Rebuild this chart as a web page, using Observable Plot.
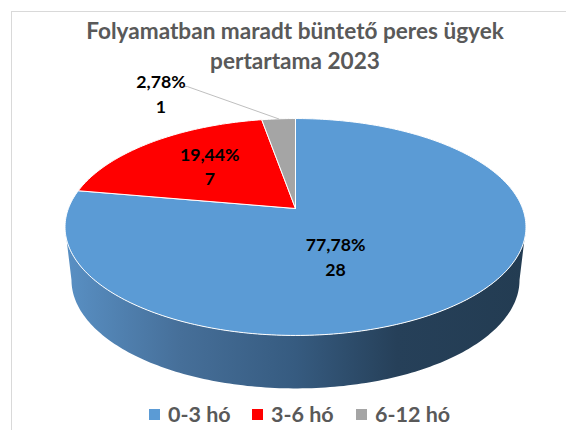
<!DOCTYPE html>
<html>
<head>
<meta charset="utf-8">
<script src="https://cdn.jsdelivr.net/npm/d3@7"></script>
<script src="https://cdn.jsdelivr.net/npm/@observablehq/plot@0.6"></script>
<style>
  html, body { margin: 0; padding: 0; background: #fff; width: 566px; height: 430px; overflow: hidden; }
  #chart { position: relative; width: 566px; height: 430px; font-family: Lato, sans-serif; }
  #rule { position: absolute; left: 11px; right: 0; top: 11px; height: 419px; border-top: 1px solid #d9d9d9; border-left: 1px solid #d9d9d9; }
  #title { position: absolute; left: 0; width: 590px; top: 16px; text-align: center; color: #595959;
           font-weight: 700; font-size: 22.6px; line-height: 29.5px; }
  #plot { position: absolute; left: 0; top: 72px; }
  #plot svg { display: block; background: transparent; }
  #legend { position: absolute; left: 0; top: 400px; height: 30px; width: 566px; color: #595959;
            font-weight: 700; font-size: 21.5px; line-height: 28px; }
  #legend span.s { position: absolute; top: 9px; width: 11px; height: 11px; }
  #legend span.t { position: absolute; top: 0; white-space: nowrap; }
</style>
</head>
<body>
<div id="chart">
  <div id="rule"></div>
  <div id="title"></div>
  <div id="plot"></div>
  <div id="legend"></div>
</div>
<script>
const titleLines = ["Folyamatban maradt büntető peres ügyek", "pertartama 2023"];
const categories = ["0-3 hó", "3-6 hó", "6-12 hó"];
const counts = [28, 7, 1];
const shares = ["77,78%", "19,44%", "2,78%"];
const colors = ["#5b9bd5", "#ff0000", "#a5a5a5"];

// Perspective of the tilted disc: unit circle -> screen-like model coordinates
const tilt = 0.1705;
const project = (angle, r = 1) => {
  const u = r * Math.sin(angle), v = r * Math.cos(angle), w = 1 + tilt * v;
  return {x: u / w, y: v / w};
};
const wallDepth = 0.503, wallShrink = 0.972;
const frontStart = Math.PI / 2 + Math.asin(tilt);
const frontEnd = 2 * Math.PI - frontStart;
const step = Math.PI / 180;

const total = d3.sum(counts);
let cumulative = 0;
const slices = categories.map((category, i) => {
  const a0 = cumulative / total * 2 * Math.PI;
  cumulative += counts[i];
  const a1 = cumulative / total * 2 * Math.PI;
  return {category, i, a0, a1, mid: (a0 + a1) / 2};
});

const facePoints = slices.flatMap(s => {
  const n = Math.max(2, Math.ceil((s.a1 - s.a0) / step));
  const arc = d3.range(n + 1).map(j => ({...project(s.a0 + (s.a1 - s.a0) * j / n), category: s.category}));
  const apex = {...project(0, 0), category: s.category};
  return [apex, ...arc, apex];
});

const wallPoints = slices.flatMap(s => {
  const a0 = Math.max(s.a0, frontStart), a1 = Math.min(s.a1, frontEnd);
  if (a1 <= a0) return [];
  const n = Math.ceil((a1 - a0) / step);
  const angles = d3.range(n + 1).map(j => a0 + (a1 - a0) * j / n);
  const upper = angles.map(a => project(a));
  const lower = angles.slice().reverse().map(a => {
    const p = project(a);
    return {x: p.x * wallShrink, y: p.y - wallDepth};
  });
  return [...upper, ...lower, upper[0]];
});

const gradient = () => {
  const defs = d3.create("svg:defs");
  const g = defs.append("linearGradient").attr("id", "wallShade").attr("x1", 0).attr("x2", 1).attr("y1", 0).attr("y2", 0);
  [[0, "#5990c4"], [0.25, "#466f99"], [0.5, "#365b80"], [0.72, "#264059"], [1, "#233c52"]]
    .forEach(([o, c]) => g.append("stop").attr("offset", o).attr("stop-color", c));
  return defs.node();
};

// Label placement: a point of each slice plus a pixel offset
const labelSpots = [
  {r: 0.5, dx: -38, dy: 4},
  {r: 0.5, dx: -10, dy: -8},
  {r: 1, dx: -117.6, dy: -26}
];
const labelMarks = slices.map((s, i) => {
  const spot = labelSpots[i];
  return Plot.text([{...project(s.mid, spot.r), label: shares[i] + "\n" + counts[i]}], {
    x: "x", y: "y", text: "label", dx: spot.dx, dy: spot.dy,
    fill: "#000", fontWeight: 700, fontSize: 17.7, lineHeight: 1.38,
    textAnchor: "middle", lineAnchor: "middle", fontFamily: "Lato, sans-serif"
  });
});

const smallest = slices[2];
const rim = project(smallest.mid);
const leader = [rim, {x: -0.476, y: 1.158}, {x: -0.5, y: 1.158}];

const chart = Plot.plot({
  width: 566,
  height: 328,
  margin: 0,
  x: {domain: [-1, 1], range: [295 - 227.1, 295 + 227.1], axis: null},
  y: {domain: [-1, 1], range: [136 + 105.3, 136 - 105.3], axis: null},
  color: {domain: categories, range: colors},
  style: {background: "transparent"},
  marks: [
    gradient,
    Plot.line(wallPoints, {x: "x", y: "y", fill: "url(#wallShade)", stroke: "none", curve: "linear"}),
    Plot.line(facePoints, {x: "x", y: "y", z: "category", fill: "category", stroke: "#fff", strokeWidth: 1, curve: "linear"}),
    Plot.line(leader, {x: "x", y: "y", stroke: "#bfbfbf", strokeWidth: 1}),
    ...labelMarks
  ]
});
document.getElementById("plot").appendChild(chart);

document.getElementById("title").innerHTML = titleLines.join("<br>");
const legend = d3.select("#legend");
const swatchLeft = [149, 252, 356];
categories.forEach((c, i) => {
  legend.append("span").attr("class", "s").style("left", swatchLeft[i] + "px").style("background", colors[i]);
  legend.append("span").attr("class", "t").style("left", (swatchLeft[i] + 19) + "px").text(c);
});
</script>
</body>
</html>
